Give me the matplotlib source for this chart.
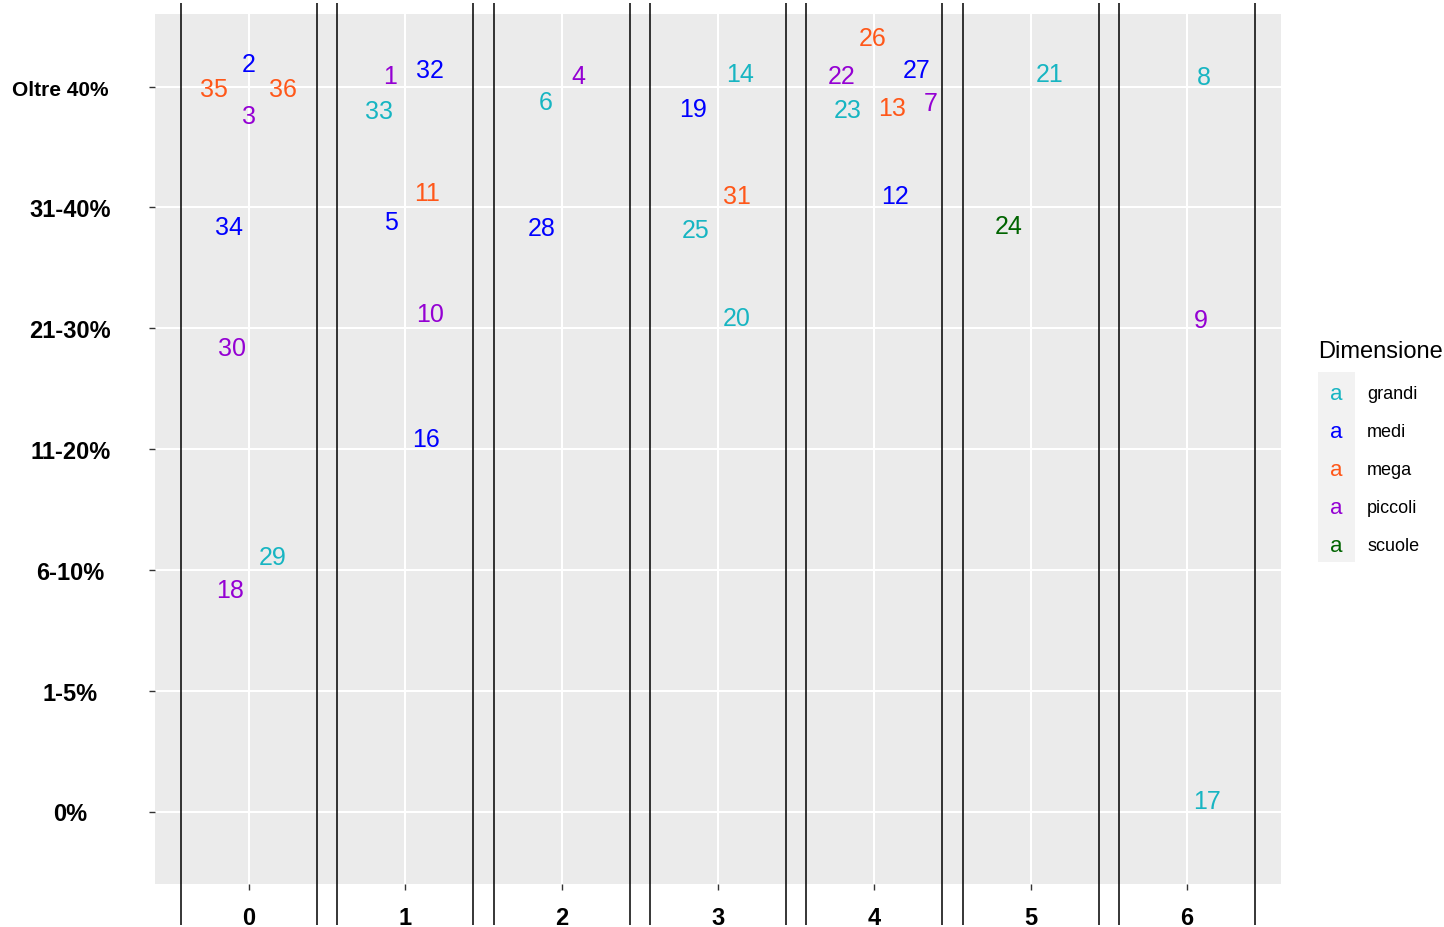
import matplotlib

matplotlib.use("Agg")
import matplotlib.pyplot as plt  # noqa: E402
from matplotlib.patches import Rectangle  # noqa: E402
from matplotlib.transforms import blended_transform_factory, offset_copy  # noqa: E402

plt.rcParams["font.family"] = ["Liberation Sans", "DejaVu Sans"]

# classi di percentuale (asse y) e numero di categorie (asse x)
livelli = ["0%", "1-5%", "6-10%", "11-20%", "21-30%", "31-40%", "Oltre 40%"]
colonne = [0, 1, 2, 3, 4, 5, 6]

# un'etichetta per scuola: colonna, livello (indice), spostamento per non sovrapporre
etichetta = ["2", "35", "36", "3", "34", "30", "29", "18",
             "1", "32", "33", "11", "5", "10", "16",
             "6", "4", "28",
             "14", "19", "31", "25", "20",
             "26", "22", "27", "23", "13", "7", "12",
             "21", "24",
             "8", "9", "17"]
col = [0, 0, 0, 0, 0, 0, 0, 0,
       1, 1, 1, 1, 1, 1, 1,
       2, 2, 2,
       3, 3, 3, 3, 3,
       4, 4, 4, 4, 4, 4, 4,
       5, 5,
       6, 6, 6]
liv = [6, 6, 6, 6, 5, 4, 2, 2,
       6, 6, 6, 5, 5, 4, 3,
       6, 6, 5,
       6, 6, 5, 5, 4,
       6, 6, 6, 6, 6, 6, 5,
       6, 5,
       6, 4, 0]
dx = [0.00, -0.22, 0.22, 0.00, -0.13, -0.11, 0.15, -0.12,
      -0.10, 0.16, -0.17, 0.14, -0.09, 0.16, 0.13,
      -0.10, 0.11, -0.13,
      0.14, -0.16, 0.12, -0.14, 0.12,
      -0.01, -0.21, 0.27, -0.17, 0.11, 0.36, 0.13,
      0.12, -0.14,
      0.11, 0.09, 0.13]
dy = [0.21, 0.00, 0.00, -0.22, -0.14, -0.14, 0.13, -0.14,
      0.11, 0.16, -0.18, 0.14, -0.10, 0.14, 0.11,
      -0.10, 0.11, -0.15,
      0.13, -0.16, 0.12, -0.16, 0.11,
      0.43, 0.11, 0.16, -0.17, -0.15, -0.11, 0.12,
      0.13, -0.13,
      0.10, 0.09, 0.11]
dimensione = ["medi", "mega", "mega", "piccoli", "medi", "piccoli", "grandi", "piccoli",
              "piccoli", "medi", "grandi", "mega", "medi", "piccoli", "medi",
              "grandi", "piccoli", "medi",
              "grandi", "medi", "mega", "grandi", "grandi",
              "mega", "piccoli", "medi", "grandi", "mega", "piccoli", "medi",
              "grandi", "scuole",
              "grandi", "piccoli", "grandi"]

colori = {
    "grandi": "#17B5C2",
    "medi": "#0000FF",
    "mega": "#FF5719",
    "piccoli": "#9400D3",
    "scuole": "#006400",
}

W, H = 1444, 928
fig = plt.figure(figsize=(W / 100, H / 100), dpi=100)
ax = fig.add_axes([155 / W, 43 / H, 1126 / W, 870 / H])
ax.set_facecolor("#EBEBEB")
ax.set_xlim(-0.6, 6.6)
ax.set_ylim(-0.6, 6.6)

ax.set_xticks(colonne)
ax.set_xticklabels([str(c) for c in colonne], fontsize=17, fontweight="bold")
ax.set_yticks(range(len(livelli)))
# l'ultima classe ha un testo più lungo: la si scrive a parte, più piccola
ax.set_yticklabels(livelli[:-1] + [""], fontsize=17, fontweight="bold", ha="center")
tr_oltre = offset_copy(blended_transform_factory(fig.transFigure, ax.transData),
                       fig=fig, x=0, y=-3, units="dots")
fig.text(60 / W, len(livelli) - 1, livelli[-1], fontsize=15, fontweight="bold",
         ha="center", va="center", transform=tr_oltre)
ax.tick_params(axis="y", length=4, width=1, color="#333333", pad=57)
ax.tick_params(axis="x", length=4, width=1, color="#333333", pad=12)
for s in ax.spines.values():
    s.set_visible(False)
ax.grid(True, color="white", linewidth=1.5)
ax.set_axisbelow(True)

# le cifre scendono di qualche pixel per centrare il glifo, non il riquadro
trans_testo = offset_copy(ax.transData, fig=fig, x=0, y=-3, units="dots")
for t, c, l, ox, oy, d in zip(etichetta, col, liv, dx, dy, dimensione):
    ax.text(c + ox, l + oy, t, color=colori[d], fontsize=18,
            ha="center", va="center", transform=trans_testo)

# riquadri verticali attorno a ciascuna colonna, oltre i bordi del pannello
for c in colonne:
    ax.vlines([c - 0.435, c + 0.435], -0.937, 6.69, color="black",
              linewidth=1.1, clip_on=False)

# legenda costruita a mano
fig.text(1318 / W, 1 - 352 / H, "Dimensione", fontsize=17, ha="left", va="center")
fig.patches.append(Rectangle((1318 / W, 1 - 563 / H), 37 / W, 190 / H,
                             transform=fig.transFigure, facecolor="#F2F2F2",
                             edgecolor="none"))
for i, nome in enumerate(colori):
    yy = 1 - (395 + i * 37.8) / H
    fig.text(1336 / W, yy, "a", color=colori[nome], fontsize=16,
             ha="center", va="center")
    fig.text(1367 / W, yy, nome, fontsize=13, ha="left", va="center")

fig.savefig("out.png", dpi=100)
